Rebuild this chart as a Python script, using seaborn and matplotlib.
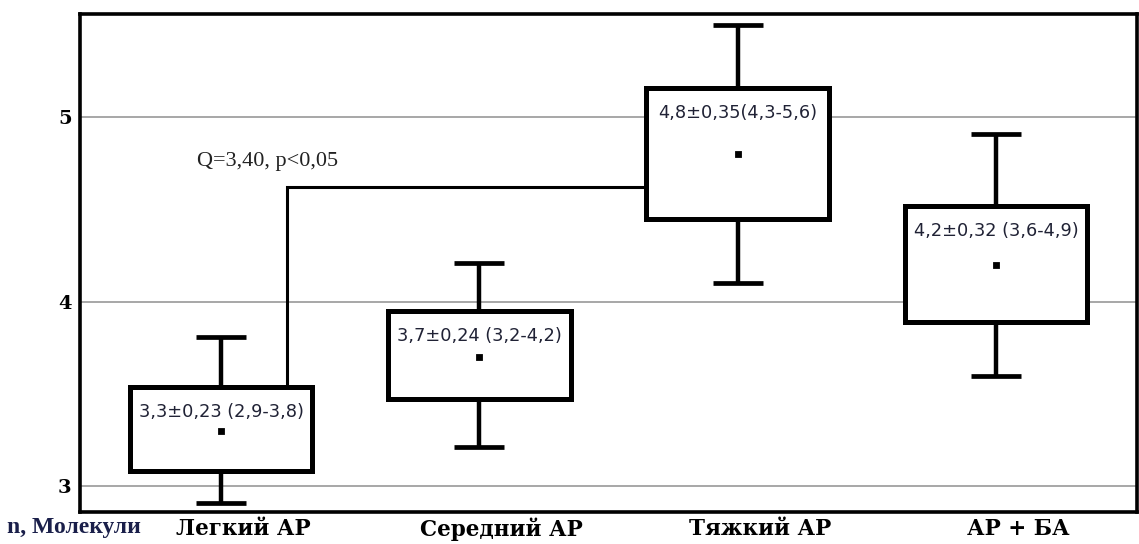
import numpy as np
import pandas as pd
import matplotlib
matplotlib.use("Agg")
import matplotlib.pyplot as plt
import matplotlib.transforms as mtransforms
import seaborn as sns

# ---- data ----
groups = ["Легкий АР", "Середний АР", "Тяжкий АР", "АР + БА"]
means = [3.3, 3.7, 4.8, 4.2]
box_low = [3.08, 3.47, 4.45, 3.89]
box_high = [3.54, 3.95, 5.16, 4.52]
whisk_low = [2.91, 3.21, 4.10, 3.60]
whisk_high = [3.81, 4.21, 5.50, 4.91]
box_labels = ["3,3±0,23 (2,9-3,8)", "3,7±0,24 (3,2-4,2)",
              "4,8±0,35(4,3-5,6)", "4,2±0,32 (3,6-4,9)"]
yticks = [3, 4, 5]
q_text = "Q=3,40, p<0,05"
bracket_level = 4.62
y_axis_title = "n, Молекули"

# long table so seaborn's boxplot gives Q1=box_low, Q3=box_high, whiskers = min/max
rows = []
for g, lo, m, hi, wl, wh in zip(groups, box_low, means, box_high, whisk_low, whisk_high):
    for v in (wl, lo, m, hi, wh):
        rows.append({"group": g, "value": v})
df = pd.DataFrame(rows)

sns.set_theme(style="white")
plt.rcParams["font.family"] = ["DejaVu Sans"]

fig = plt.figure(figsize=(11.39, 5.44), dpi=100)
ax = fig.add_axes([80 / 1139, 1 - 512 / 544, 1057 / 1139, 498 / 544])

box_w = 0.708
sns.boxplot(data=df, x="group", y="value", order=groups, ax=ax,
            width=box_w, whis=np.inf, fill=True, color="white",
            linecolor="black", linewidth=3.6,
            medianprops={"linewidth": 0, "alpha": 0},
            whiskerprops={"linewidth": 3.2},
            capprops={"linewidth": 3.4, "solid_capstyle": "butt"},
            capwidths=0.194, zorder=3)

sns.pointplot(x=groups, y=means, order=groups, ax=ax, color="black",
              marker="s", markersize=2.6, linestyle="none", errorbar=None,
              zorder=6)

# grid lines
for t in yticks:
    ax.axhline(t, color="#a0a0a0", linewidth=1.3, zorder=1)

# statistics text in boxes
for i, (hi, lab) in enumerate(zip(box_high, box_labels)):
    ax.annotate(lab, xy=(i, hi), xytext=(0, -18), textcoords="offset points",
                ha="center", va="center", fontsize=12.8, color="#202235",
                family="DejaVu Sans", zorder=7)

# bracket Q
x_vert = 0.255
x_end = 2 - box_w / 2
ax.plot([x_vert, x_vert, x_end], [box_high[0], bracket_level, bracket_level],
        color="black", linewidth=2.2, zorder=2, solid_joinstyle="miter")
ax.text(-0.093, 4.76, q_text, ha="left", va="center", fontsize=16,
        family="Liberation Serif", color="#222222")

ax.set_xlim(-0.546, 3.546)
ax.set_ylim(2.86, 5.56)
ax.set_yticks(yticks)
ax.set_yticklabels([str(t) for t in yticks], fontsize=14, fontweight="bold",
                   family="DejaVu Serif", color="black")
ax.set_xticks(range(len(groups)))
ax.set_xticklabels(groups, fontsize=15.5, fontweight="bold",
                   family="DejaVu Serif", color="black")
ax.tick_params(axis="x", length=0, pad=4)
ax.tick_params(axis="y", length=0, pad=6)
shift = mtransforms.ScaledTranslation(22 / 100, 0, fig.dpi_scale_trans)
for lab in ax.get_xticklabels():
    lab.set_transform(lab.get_transform() + shift)
ax.set_xlabel("")
ax.set_ylabel("")
for s in ax.spines.values():
    s.set_visible(True)
    s.set_color("black")
    s.set_linewidth(2.6)

fig.text(7 / 1139, 1 - 528 / 544, y_axis_title, ha="left", va="center",
         fontsize=17, fontweight="bold", family="Liberation Serif",
         color="#1a1f4a")

fig.savefig("out.png", dpi=100, facecolor="white")
